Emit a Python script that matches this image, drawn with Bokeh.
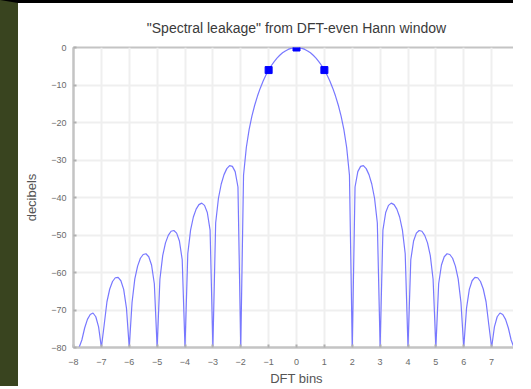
from bokeh.plotting import figure
from bokeh.models import Range1d, FixedTicker, LinearAxis, Span
from bokeh.embed import file_html
from bokeh.resources import INLINE

# DFT bin positions at which the leakage curve was read
bins = [
    -7.8, -7.7, -7.6, -7.5, -7.4, -7.3, -7.2, -7.1, -7.0,
    -6.9, -6.8, -6.7, -6.6, -6.5, -6.4, -6.3, -6.2, -6.1, -6.0,
    -5.9, -5.8, -5.7, -5.6, -5.5, -5.4, -5.3, -5.2, -5.1, -5.0,
    -4.9, -4.8, -4.7, -4.6, -4.5, -4.4, -4.3, -4.2, -4.1, -4.0,
    -3.9, -3.8, -3.7, -3.6, -3.5, -3.4, -3.3, -3.2, -3.1, -3.0,
    -2.9, -2.8, -2.7, -2.6, -2.5, -2.4, -2.3, -2.2, -2.1, -2.0,
    -1.9, -1.8, -1.7, -1.6, -1.5, -1.4, -1.3, -1.2, -1.1, -1.0,
    -0.9, -0.8, -0.7, -0.6, -0.5, -0.4, -0.3, -0.2, -0.1, 0.0,
    0.1, 0.2, 0.3, 0.4, 0.5, 0.6, 0.7, 0.8, 0.9, 1.0,
    1.1, 1.2, 1.3, 1.4, 1.5, 1.6, 1.7, 1.8, 1.9, 2.0,
    2.1, 2.2, 2.3, 2.4, 2.5, 2.6, 2.7, 2.8, 2.9, 3.0,
    3.1, 3.2, 3.3, 3.4, 3.5, 3.6, 3.7, 3.8, 3.9, 4.0,
    4.1, 4.2, 4.3, 4.4, 4.5, 4.6, 4.7, 4.8, 4.9, 5.0,
    5.1, 5.2, 5.3, 5.4, 5.5, 5.6, 5.7, 5.8, 5.9, 6.0,
    6.1, 6.2, 6.3, 6.4, 6.5, 6.6, 6.7, 6.8, 6.9, 7.0,
    7.1, 7.2, 7.3, 7.4, 7.5, 7.6, 7.7, 7.8,
]

# leakage level (dB) read at each bin; nulls drop to the bottom of the axis
decibels = [
    -80.0, -78.0, -74.8, -72.5, -71.2, -70.8, -71.8, -74.5, -80.0,
    -74.0, -67.8, -64.4, -62.4, -61.4, -61.3, -62.2, -64.5, -69.5, -80.0,
    -68.0, -61.7, -58.3, -56.2, -55.2, -55.0, -55.8, -58.0, -63.0, -80.0,
    -61.8, -55.5, -52.1, -50.1, -49.0, -48.8, -49.5, -51.6, -56.6, -80.0,
    -55.0, -48.7, -45.2, -43.1, -41.9, -41.5, -42.1, -44.0, -48.7, -80.0,
    -46.8, -40.2, -36.4, -33.9, -32.3, -31.5, -31.7, -33.1, -37.2, -80.0,
    -34.05, -26.67, -21.92, -18.32, -15.40, -12.95, -10.84, -9.01, -7.42, -6.02,
    -4.80, -3.75, -2.84, -2.07, -1.42, -0.91, -0.51, -0.22, -0.06, 0.0,
    -0.06, -0.22, -0.51, -0.91, -1.42, -2.07, -2.84, -3.75, -4.80, -6.02,
    -7.42, -9.01, -10.84, -12.95, -15.40, -18.32, -21.92, -26.67, -34.05, -80.0,
    -37.2, -33.1, -31.7, -31.5, -32.3, -33.9, -36.4, -40.2, -46.8, -80.0,
    -48.7, -44.0, -42.1, -41.5, -41.9, -43.1, -45.2, -48.7, -55.0, -80.0,
    -56.6, -51.6, -49.5, -48.8, -49.0, -50.1, -52.1, -55.5, -61.8, -80.0,
    -63.0, -58.0, -55.8, -55.0, -55.2, -56.2, -58.3, -61.7, -68.0, -80.0,
    -69.5, -64.5, -62.2, -61.3, -61.4, -62.4, -64.4, -67.8, -74.0, -80.0,
    -74.5, -71.8, -70.8, -71.2, -72.5, -74.8, -78.0, -80.0,
]

# DFT samples marked on the main lobe
sample_bins = [-1, 0, 1]
sample_db = [-6.02, 0.0, -6.02]

x_ticks = [-8, -7, -6, -5, -4, -3, -2, -1, 0, 1, 2, 3, 4, 5, 6, 7]
y_ticks = [-80, -70, -60, -50, -40, -30, -20, -10, 0]

FONT = "Liberation Sans"
FRAME = "#c4c4c4"

p = figure(width=513, height=386, output_backend="svg", toolbar_location=None,
           x_range=Range1d(-8, 8), y_range=Range1d(-80, 0),
           min_border_left=55, min_border_right=12, min_border_top=44,
           min_border_bottom=42, x_axis_location=None, y_axis_location=None,
           styles={"border-top": "3px solid #000",
                   "border-left": "18px solid #39441f"})

p.title.text = '"Spectral leakage" from DFT-even Hann window'
p.title.align = "center"
p.title.text_font = FONT
p.title.text_font_size = "14px"
p.title.text_font_style = "normal"
p.title.text_color = "#3a3a3a"
p.title.standoff = 24

p.outline_line_color = FRAME
p.outline_line_width = 2
p.background_fill_color = "white"
p.border_fill_color = "white"


def style_axis(ax, ticks):
    ax.ticker = FixedTicker(ticks=ticks)
    ax.axis_line_color = FRAME
    ax.axis_line_width = 2
    ax.major_tick_line_color = "#b0b0b0"
    ax.major_tick_line_width = 2
    ax.major_tick_in = 3
    ax.major_tick_out = 0
    ax.minor_tick_line_color = None
    ax.major_label_text_font = FONT
    ax.major_label_text_font_size = "9px"
    ax.major_label_text_color = "#6a6a6a"
    ax.axis_label_text_font = FONT
    ax.axis_label_text_font_size = "13px"
    ax.axis_label_text_font_style = "normal"
    ax.axis_label_text_color = "#555555"


xb = LinearAxis(axis_label="DFT bins")
style_axis(xb, x_ticks)
xb.major_label_standoff = 11
xb.axis_label_standoff = 3
p.add_layout(xb, "below")

yl = LinearAxis(axis_label="decibels")
style_axis(yl, y_ticks)
yl.major_label_standoff = 7
yl.axis_label_standoff = 9
p.add_layout(yl, "left")

p.xgrid.ticker = FixedTicker(ticks=x_ticks)
p.ygrid.ticker = FixedTicker(ticks=y_ticks)
p.xgrid.grid_line_color = "#efefef"
p.ygrid.grid_line_color = "#efefef"
p.xgrid.grid_line_width = 2
p.ygrid.grid_line_width = 2

# lighter right-hand frame edge, as in the reference
p.add_layout(Span(location=8, dimension="height", line_color="#e2e2e2",
                  line_width=5))

p.line(bins, decibels, line_color="#7878ff", line_width=1.2)
p.scatter(sample_bins, sample_db, marker="square", size=7,
          fill_color="#0000ff", line_color="#0000ff")

open("out.html", "w").write(file_html(p, INLINE))
